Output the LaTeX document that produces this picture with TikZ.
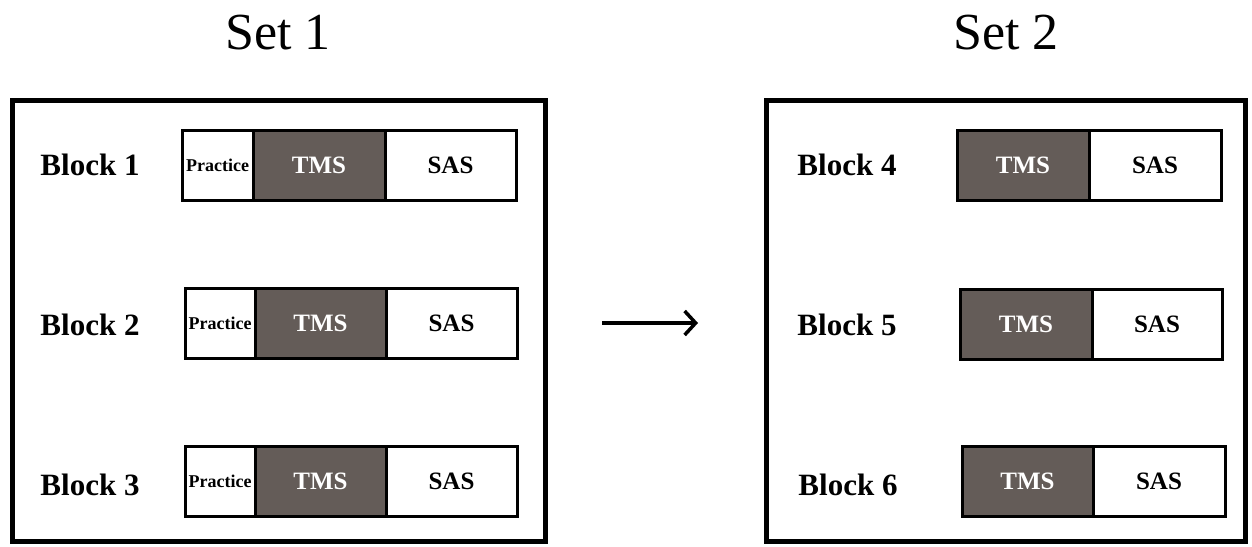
\documentclass[tikz,border=0pt]{standalone}
\usepackage{fontspec}
\setmainfont{Liberation Serif}
\usetikzlibrary{arrows.meta}
\definecolor{tmsgray}{RGB}{100,92,88}
\tikzset{
  frame/.style={draw=black, line width=5pt},
  cell/.style={draw=black, line width=3pt, rectangle, inner sep=0pt, minimum height=70pt, font=\fontsize{25}{25}\selectfont\bfseries},
  prac/.style={cell, fill=white, font=\fontsize{18}{18}\selectfont\bfseries},
  tms/.style={cell, fill=tmsgray, text=white},
  sas/.style={cell, fill=white},
  blocklabel/.style={font=\fontsize{31}{31}\selectfont\bfseries, inner sep=0pt},
  settitle/.style={font=\fontsize{52}{52}\selectfont, inner sep=0pt},
}
\begin{document}
\begin{tikzpicture}[x=1pt, y=-1pt]
\useasboundingbox (0,0) rectangle (1252,546);
% titles
\node[settitle] (s1) at (278,33) {Set 1};
\node[settitle] (s2) at (1006,33) {Set 2};
% frames
\draw[frame] (12,100) rectangle (545,541);
\draw[frame] (766,100) rectangle (1245,541);
% set 1 rows
\node[blocklabel] (b1) at (90,165) {Block 1};
\node[prac, minimum width=71pt] (p1) at (217.5,165) {Practice};
\node[tms, minimum width=132pt] (t1) at (319,165) {TMS};
\node[sas, minimum width=131pt] (a1) at (450.5,165) {SAS};
\node[blocklabel] (b2) at (90,325) {Block 2};
\node[prac, minimum width=70pt] (p2) at (220,323) {Practice};
\node[tms, minimum width=131pt] (t2) at (320.5,323) {TMS};
\node[sas, minimum width=131pt] (a2) at (451.5,323) {SAS};
\node[blocklabel] (b3) at (90,485) {Block 3};
\node[prac, minimum width=70pt] (p3) at (220,481) {Practice};
\node[tms, minimum width=131pt] (t3) at (320.5,481) {TMS};
\node[sas, minimum width=131pt] (a3) at (451.5,481) {SAS};
% set 2 rows
\node[blocklabel] (b4) at (847,165) {Block 4};
\node[tms, minimum width=132pt] (t4) at (1023,165) {TMS};
\node[sas, minimum width=132pt] (a4) at (1155,165) {SAS};
\node[blocklabel] (b5) at (847,325) {Block 5};
\node[tms, minimum width=132pt] (t5) at (1026,324) {TMS};
\node[sas, minimum width=130pt] (a5) at (1157,324) {SAS};
\node[blocklabel] (b6) at (848,485) {Block 6};
\node[tms, minimum width=131pt] (t6) at (1027.5,481) {TMS};
\node[sas, minimum width=132pt] (a6) at (1159,481) {SAS};
% arrow
\coordinate (ar1) at (602,323);
\coordinate (ar2) at (698,323);
\draw[line width=3.5pt, -{Straight Barb[length=11pt, width=24pt, line width=3.5pt]}] (ar1) -- (ar2);
\end{tikzpicture}
\end{document}
